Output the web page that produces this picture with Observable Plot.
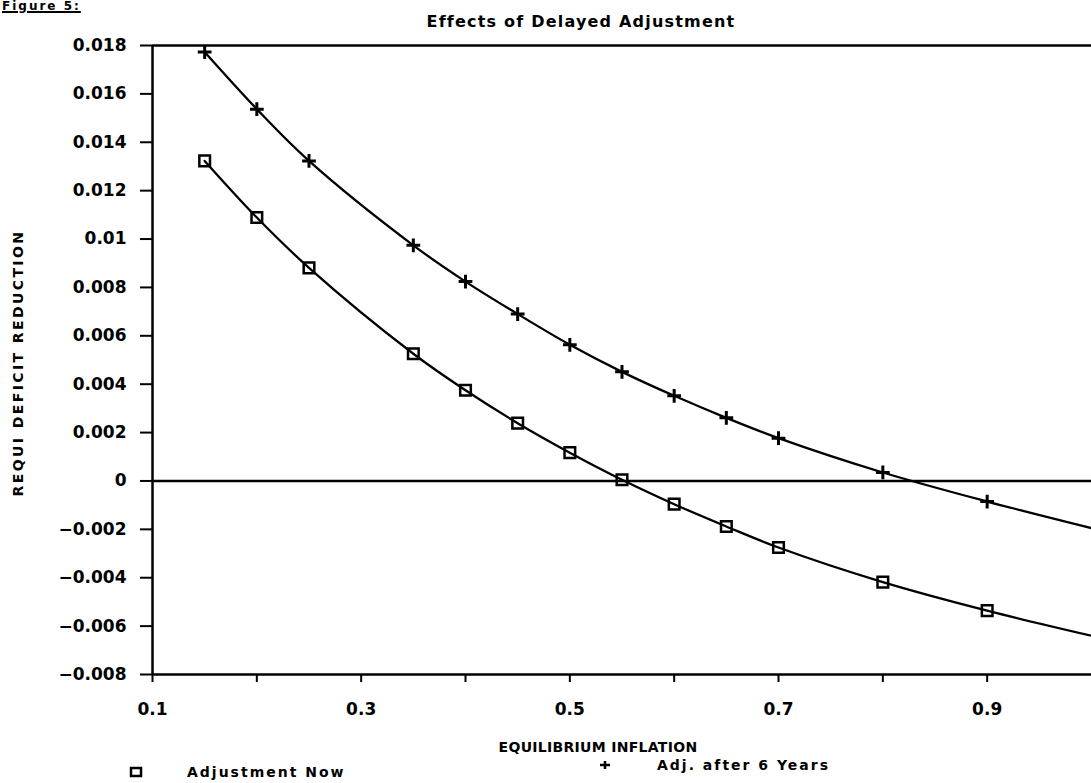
<!DOCTYPE html>
<html><head><meta charset="utf-8">
<script src="https://cdn.jsdelivr.net/npm/d3@7"></script>
<script src="https://cdn.jsdelivr.net/npm/@observablehq/plot@0.6"></script>
<style>
html,body{margin:0;padding:0;background:#fff;overflow:hidden;}
#wrap{position:relative;width:1091px;height:783px;font-family:"DejaVu Sans",sans-serif;font-weight:bold;color:#000;overflow:hidden;}
.t{position:absolute;white-space:nowrap;line-height:1;}
</style></head><body><div id="wrap"></div>
<script>
// ---- data ----
const inflation = [0.15, 0.2, 0.25, 0.35, 0.4, 0.45, 0.5, 0.55, 0.6, 0.65, 0.7, 0.8, 0.9, 1.0];
const adjustmentNow = [0.01323, 0.01089, 0.00881, 0.00526, 0.00375, 0.00239, 0.00117, 0.00005, -0.00096, -0.00188, -0.00275, -0.00418, -0.00536, -0.0064];
const adjAfter6Years = [0.01773, 0.01537, 0.01323, 0.00974, 0.00824, 0.0069, 0.00563, 0.00451, 0.00352, 0.00261, 0.00177, 0.00035, -0.00085, -0.00195];
const xTicks = [0.1, 0.2, 0.3, 0.4, 0.5, 0.6, 0.7, 0.8, 0.9];
const xTickLabels = ["0.1", "", "0.3", "", "0.5", "", "0.7", "", "0.9"];
const yTicks = [-0.008, -0.006, -0.004, -0.002, 0, 0.002, 0.004, 0.006, 0.008, 0.01, 0.012, 0.014, 0.016, 0.018];
const yTickLabels = ["\u22120.008", "\u22120.006", "\u22120.004", "\u22120.002", "0", "0.002", "0.004", "0.006", "0.008", "0.01", "0.012", "0.014", "0.016", "0.018"];
const seriesNames = ["Adjustment Now", "Adj. after 6 Years"];

const rows = inflation.map((x, i) => ({x, now: adjustmentNow[i], later: adjAfter6Years[i]}));
const visible = rows.filter(d => d.x <= 0.9);

const plot = Plot.plot({
  width: 1091, height: 783,
  marginLeft: 152, marginRight: 0, marginTop: 45, marginBottom: 109,
  style: {fontFamily: "DejaVu Sans", fontSize: "17px", fontWeight: "bold", background: "#fff", color: "#000", overflow: "visible"},
  x: {domain: [0.1, 1.0]},
  y: {domain: [-0.008, 0.018]},
  marks: [
    Plot.axisY({ticks: yTicks, tickFormat: d => yTickLabels[yTicks.indexOf(d)], tickSize: 12, tickPadding: 14, strokeWidth: 2, label: null}),
    Plot.axisX({ticks: xTicks, tickFormat: d => xTickLabels[xTicks.indexOf(d)], tickSize: 8, tickPadding: 20, strokeWidth: 2, label: null}),
    Plot.ruleX([0.1], {strokeWidth: 2.5}),
    Plot.ruleY([-0.008, 0.018], {strokeWidth: 2.5, x1: 0.1, x2: 1.0}),
    Plot.ruleY([0], {strokeWidth: 2.5}),
    Plot.line(rows, {x: "x", y: "now", curve: "catmull-rom", strokeWidth: 2.3, clip: true}),
    Plot.line(rows, {x: "x", y: "later", curve: "catmull-rom", strokeWidth: 2.3, clip: true}),
    Plot.dot(visible, {x: "x", y: "now", symbol: "square", r: 6, stroke: "black", strokeWidth: 2.5, fill: "none"}),
    Plot.dot(visible, {x: "x", y: "later", symbol: "plus", r: 4.5, stroke: "black", strokeWidth: 3})
  ]
});
const wrap = document.getElementById("wrap");
plot.style.position = "absolute";
plot.style.left = "0px";
plot.style.top = "0px";
wrap.appendChild(plot);

function addText(txt, css) {
  const d = document.createElement("div");
  d.className = "t";
  d.textContent = txt;
  Object.assign(d.style, css);
  wrap.appendChild(d);
  return d;
}
addText("Figure 5:", {left: "2px", top: "0px", fontSize: "12px", letterSpacing: "2px", textDecoration: "underline", textDecorationThickness: "2px"});
addText("Effects of Delayed Adjustment", {left: "581px", top: "14px", fontSize: "16px", letterSpacing: "1.2px", transform: "translateX(-50%)"});
addText("EQUILIBRIUM INFLATION", {left: "598px", top: "740px", fontSize: "14px", letterSpacing: "0.3px", transform: "translateX(-50%)"});
addText("REQUI DEFICIT REDUCTION", {left: "18px", top: "363px", fontSize: "14px", letterSpacing: "2.4px", transform: "translate(-50%,-50%) rotate(-90deg)"});
addText(seriesNames[0], {left: "187px", top: "765px", fontSize: "14px", letterSpacing: "2px"});
addText(seriesNames[1], {left: "657px", top: "758px", fontSize: "14px", letterSpacing: "2px"});

// legend symbols
const ns = "http://www.w3.org/2000/svg";
const lg = document.createElementNS(ns, "svg");
lg.setAttribute("width", "1091"); lg.setAttribute("height", "783");
lg.style.position = "absolute"; lg.style.left = "0"; lg.style.top = "0"; lg.style.pointerEvents = "none";
const sq = document.createElementNS(ns, "rect");
sq.setAttribute("x", "131"); sq.setAttribute("y", "768"); sq.setAttribute("width", "10"); sq.setAttribute("height", "8");
sq.setAttribute("fill", "none"); sq.setAttribute("stroke", "black"); sq.setAttribute("stroke-width", "2.5");
lg.appendChild(sq);
const pl = document.createElementNS(ns, "path");
pl.setAttribute("d", "M600,765H610M605,761V769");
pl.setAttribute("stroke", "black"); pl.setAttribute("stroke-width", "2.5");
lg.appendChild(pl);
wrap.appendChild(lg);
</script>
</body></html>
